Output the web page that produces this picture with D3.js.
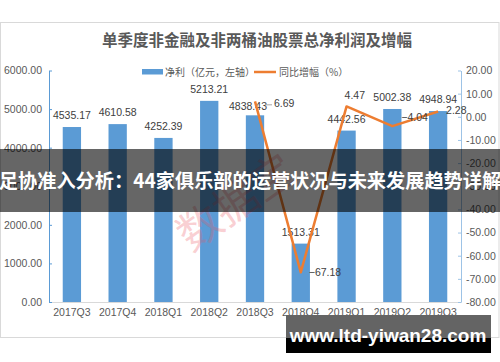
<!DOCTYPE html>
<html>
<head>
<meta charset="utf-8">
<script src="https://cdn.jsdelivr.net/npm/d3@7"></script>
<style>
  body { margin: 0; background: #fff; }
  svg { display: block; }
</style>
</head>
<body>
<div id="chart"></div>
<script>
// data
var quarters = ["2017Q3", "2017Q4", "2018Q1", "2018Q2", "2018Q3", "2018Q4", "2019Q1", "2019Q2", "2019Q3"];
var profit = [4535.17, 4610.58, 4252.39, 5213.21, 4838.43, 1513.31, 4442.56, 5002.38, 4948.94];
var growth = [null, null, null, null, 6.69, -67.18, 4.47, -4.04, 2.28];
var leftTicks = [0, 1000, 2000, 3000, 4000, 5000, 6000];
var rightTicks = [20, 10, 0, -10, -20, -30, -40, -50, -60, -70, -80];

var svgWidth = 500;
var svgHeight = 362;

var plot = { left: 49, right: 461, top: 70.5, bottom: 302 };

var numFont = "'Liberation Sans', 'Noto Sans CJK SC', sans-serif";
var cjkFont = "'Noto Sans CJK SC', sans-serif";
var textGray = "#595959";

var svg = d3.select("#chart")
  .append("svg")
  .attr("width", svgWidth)
  .attr("height", svgHeight);

// chart frame
svg.append("rect")
  .attr("x", 0.5)
  .attr("y", 22.5)
  .attr("width", 498.5)
  .attr("height", 315)
  .attr("fill", "#fff")
  .attr("stroke", "#d9d9d9");

// title
svg.append("text")
  .attr("x", 257)
  .attr("y", 46)
  .attr("text-anchor", "middle")
  .attr("font-family", cjkFont)
  .attr("font-weight", "bold")
  .attr("font-size", 15.5)
  .attr("fill", textGray)
  .text("单季度非金融及非两桶油股票总净利润及增幅");

// scales
var xScale = d3.scaleBand()
  .domain(quarters)
  .range([plot.left, plot.right])
  .paddingInner(0.6)
  .paddingOuter(0.3);

var yLeft = d3.scaleLinear()
  .domain([0, 6000])
  .range([plot.bottom, plot.top]);

var yRight = d3.scaleLinear()
  .domain([-80, 20])
  .range([plot.bottom, plot.top]);

var cx = function(q) { return xScale(q) + xScale.bandwidth() / 2; };

// bars
svg.append("g")
  .selectAll("rect")
  .data(profit)
  .enter()
  .append("rect")
  .attr("x", (d, i) => xScale(quarters[i]))
  .attr("y", d => yLeft(d))
  .attr("width", xScale.bandwidth())
  .attr("height", d => plot.bottom - yLeft(d))
  .attr("fill", "#5b9bd5");

// x axis (line + labels)
var xAxis = svg.append("g")
  .attr("transform", `translate(0, ${plot.bottom})`)
  .call(d3.axisBottom(xScale).tickSize(0).tickPadding(7).tickSizeOuter(0));
xAxis.select(".domain").attr("stroke", "#d9d9d9");
xAxis.selectAll("text")
  .attr("font-family", numFont)
  .attr("font-size", 10.5)
  .attr("fill", textGray);

// left axis
var leftAxis = svg.append("g")
  .attr("transform", `translate(${plot.left}, 0)`)
  .call(d3.axisLeft(yLeft).tickValues(leftTicks).tickSizeInner(-3).tickSizeOuter(0)
    .tickPadding(7).tickFormat(d3.format(".2f")));
leftAxis.select(".domain").attr("stroke", "#5b9bd5");
leftAxis.selectAll(".tick line").attr("stroke", "#5b9bd5");
leftAxis.selectAll("text")
  .attr("font-family", numFont)
  .attr("font-size", 10.5)
  .attr("fill", textGray);

// right axis
var rightAxis = svg.append("g")
  .attr("transform", `translate(${plot.right}, 0)`)
  .call(d3.axisRight(yRight).tickValues(rightTicks).tickSizeInner(-3).tickSizeOuter(0)
    .tickPadding(5).tickFormat(d3.format(".2f")));
rightAxis.select(".domain").attr("stroke", "#9dc3e6");
rightAxis.selectAll(".tick line").attr("stroke", "#9dc3e6");
rightAxis.selectAll("text")
  .attr("font-family", numFont)
  .attr("font-size", 10.5)
  .attr("fill", textGray)
  .text(d => d < 0 ? "-" + d3.format(".2f")(-d) : d3.format(".2f")(d));

// bar value labels
svg.append("g")
  .selectAll("text")
  .data(profit)
  .enter()
  .append("text")
  .attr("x", (d, i) => cx(quarters[i]) + (i === 4 ? -7 : 0))
  .attr("y", (d, i) => yLeft(d) - (i === 4 ? 5 : 8))
  .attr("text-anchor", "middle")
  .attr("font-family", numFont)
  .attr("font-size", 10.5)
  .attr("fill", "#404040")
  .text(d => d3.format(".2f")(d));

// growth line
var line = d3.line()
  .defined(d => d !== null)
  .x((d, i) => cx(quarters[i]))
  .y(d => yRight(d));

svg.append("path")
  .datum(growth)
  .attr("d", line)
  .attr("fill", "none")
  .attr("stroke", "#ed7d31")
  .attr("stroke-width", 2.5)
  .attr("stroke-linejoin", "round");

// growth labels, each placed the way the picture has it
var growthPos = {
  4: { dx: 19, dy: 6 },
  5: { dx: 8, dy: 4 },
  6: { dx: -2, dy: -7 },
  7: { dx: 9, dy: -5 },
  8: { dx: 8, dy: 2 }
};
growth.forEach(function(d, i) {
  if (d === null) return;
  var p = growthPos[i];
  svg.append("text")
    .attr("x", cx(quarters[i]) + p.dx)
    .attr("y", yRight(d) + p.dy)
    .attr("font-family", numFont)
    .attr("font-size", 10.5)
    .attr("fill", "#404040")
    .text(d3.format(".2f")(d));
});

// leader line for 6.69
svg.append("line")
  .attr("x1", cx(quarters[4]) + 10)
  .attr("x2", cx(quarters[4]) + 17)
  .attr("y1", yRight(growth[4]) + 3.5)
  .attr("y2", yRight(growth[4]) + 3.5)
  .attr("stroke", "#a6a6a6");

// legend
var legend = svg.append("g").attr("font-family", cjkFont).attr("font-size", 10).attr("fill", textGray);
legend.append("rect")
  .attr("x", 142).attr("y", 69).attr("width", 21).attr("height", 5.5)
  .attr("fill", "#5b9bd5");
legend.append("text").attr("x", 165).attr("y", 75.5).text("净利（亿元，左轴）");
legend.append("line")
  .attr("x1", 254).attr("x2", 276).attr("y1", 72).attr("y2", 72)
  .attr("stroke", "#ed7d31").attr("stroke-width", 2.5);
legend.append("text").attr("x", 279).attr("y", 75.5).text("同比增幅（%）");

// pink watermark
svg.append("text")
  .attr("transform", "translate(238, 205) rotate(-35)")
  .attr("text-anchor", "middle")
  .attr("dominant-baseline", "middle")
  .attr("font-family", cjkFont)
  .attr("font-size", 44)
  .attr("fill", "rgba(235, 90, 100, 0.28)")
  .text("数据宝");

// dark banner with headline
svg.append("rect")
  .attr("x", 0).attr("y", 149).attr("width", 500).attr("height", 63)
  .attr("fill", "rgba(0, 0, 0, 0.6)");
svg.append("text")
  .attr("x", 250)
  .attr("y", 188)
  .attr("text-anchor", "middle")
  .attr("font-family", cjkFont)
  .attr("font-weight", "bold")
  .attr("font-size", 19.2)
  .attr("fill", "#fff")
  .text("足协准入分析：44家俱乐部的运营状况与未来发展趋势详解");

// site tag bottom right
svg.append("rect")
  .attr("x", 286).attr("y", 315).attr("width", 205).attr("height", 23)
  .attr("fill", "#646464");
svg.append("rect")
  .attr("x", 286).attr("y", 338).attr("width", 205).attr("height", 15)
  .attr("fill", "#000");
svg.append("text")
  .attr("x", 388)
  .attr("y", 341.5)
  .attr("text-anchor", "middle")
  .attr("font-family", "'Liberation Sans', sans-serif")
  .attr("font-weight", "bold")
  .attr("font-size", 19)
  .attr("fill", "#fff")
  .text("www.ltd-yiwan28.com");
</script>
</body>
</html>
